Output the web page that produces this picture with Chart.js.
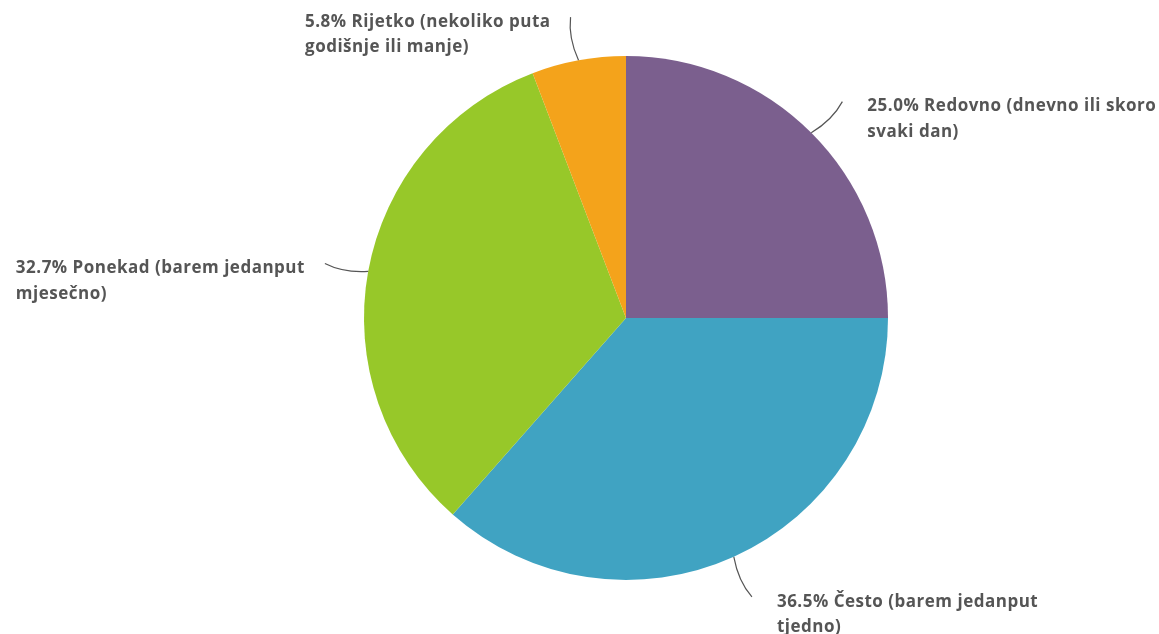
<!DOCTYPE html>
<html>
<head>
<meta charset="utf-8">
<script src="https://cdn.jsdelivr.net/npm/chart.js@4.4.0/dist/chart.umd.min.js"></script>
<style>
  html, body { margin: 0; padding: 0; background: #fff; }
  #wrap { width: 1159px; height: 634px; }
</style>
</head>
<body>
<div id="wrap"><canvas id="pie" width="1159" height="634"></canvas></div>
<script>
// answers, in drawing order (clockwise from 12 o'clock)
const labels = [
  ["Redovno (dnevno ili skoro", "svaki dan)"],
  ["Često (barem jedanput", "tjedno)"],
  ["Ponekad (barem jedanput", "mjesečno)"],
  ["Rijetko (nekoliko puta", "godišnje ili manje)"],
];
const shares = [25.0, 36.5, 32.7, 5.8];
const colors = ["#7b5f8e", "#40a3c2", "#97c829", "#f4a31b"];

// leader lines + wrapped labels outside the pie
const outsideLabels = {
  id: "outsideLabels",
  afterDraw(chart) {
    const ctx = chart.ctx;
    const meta = chart.getDatasetMeta(0);
    const total = shares.reduce((a, b) => a + b, 0);

    ctx.save();
    ctx.font = "bold 17px 'Open Sans', sans-serif";
    ctx.letterSpacing = "0.5px";
    ctx.textBaseline = "middle";

    meta.data.forEach((arc, i) => {
      const a = (arc.startAngle + arc.endAngle) / 2;
      const r = arc.outerRadius;
      const cos = Math.cos(a), sin = Math.sin(a);
      const x0 = arc.x + r * cos, y0 = arc.y + r * sin;
      const x1 = arc.x + (r + 44) * cos, y1 = arc.y + (r + 44) * sin;
      // bend the leader a little
      const bx = arc.x + (r + 24) * cos - 6 * sin * (cos >= 0 ? 1 : -1);
      const by = arc.y + (r + 24) * sin + 6 * cos * (cos >= 0 ? 1 : -1);

      ctx.strokeStyle = "#555";
      ctx.lineWidth = 1.2;
      ctx.beginPath();
      ctx.moveTo(x0, y0);
      ctx.quadraticCurveTo(bx, by, x1, y1);
      ctx.stroke();

      const pct = (shares[i] / total * 100).toFixed(1) + "% ";
      const lines = labels[i].slice();
      lines[0] = pct + lines[0];

      ctx.fillStyle = "#555";
      ctx.textAlign = "left";
      let tx;
      if (x1 >= arc.x) {
        tx = x1 + 25;
      } else {
        const w = Math.max(...lines.map((l) => ctx.measureText(l).width));
        tx = x1 - 20 - w;
      }
      lines.forEach((l, k) => ctx.fillText(l, tx, y1 + 5 + k * 25.5));
    });
    ctx.restore();
  },
};

new Chart(document.getElementById("pie"), {
  type: "pie",
  data: {
    labels: labels,
    datasets: [
      {
        data: shares,
        backgroundColor: colors,
        borderWidth: 0,
      },
    ],
  },
  options: {
    responsive: false,
    animation: false,
    layout: { padding: { top: 56, bottom: 54, left: 364, right: 271 } },
    plugins: {
      legend: { display: false },
      tooltip: { enabled: false },
    },
  },
  plugins: [outsideLabels],
});
</script>
</body>
</html>
